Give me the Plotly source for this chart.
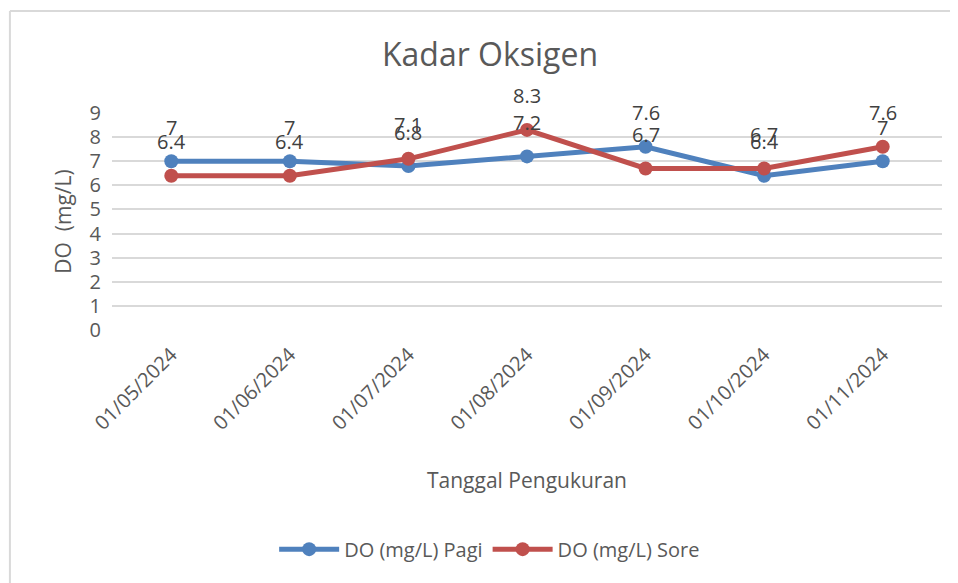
import plotly.graph_objects as go

tanggal = ["01/05/2024", "01/06/2024", "01/07/2024", "01/08/2024",
           "01/09/2024", "01/10/2024", "01/11/2024"]
do_pagi = [7, 7, 6.8, 7.2, 7.6, 6.4, 7]
do_sore = [6.4, 6.4, 7.1, 8.3, 6.7, 6.7, 7.6]
y_ticks = [0, 1, 2, 3, 4, 5, 6, 7, 8, 9]

FONT = "Open Sans"
TEXT = "#595959"

fig = go.Figure()

for name, vals, color in [("DO (mg/L) Pagi", do_pagi, "#4F81BD"),
                          ("DO (mg/L) Sore", do_sore, "#C0504D")]:
    fig.add_trace(go.Scatter(
        x=tanggal, y=vals, name=name, mode="lines+markers",
        line=dict(color=color, width=5),
        marker=dict(color=color, size=14),
    ))
    # data labels sit well above the points, like the Excel chart
    for xv, yv in zip(tanggal, vals):
        fig.add_annotation(x=xv, y=yv, text=f"{yv:g}", showarrow=False,
                           yshift=34, font=dict(family=FONT, size=20, color="#404040"))

# outer chart frame (top and left edges visible)
fig.add_shape(type="line", xref="paper", yref="paper", x0=-0.123, x1=1.2,
              y0=1.47, y1=1.47, line=dict(color="#D9D9D9", width=2))
fig.add_shape(type="line", xref="paper", yref="paper", x0=-0.123, x1=-0.123,
              y0=1.47, y1=-1.3, line=dict(color="#D9D9D9", width=2))

fig.add_annotation(text="Tanggal Pengukuran", xref="paper", yref="paper",
                   x=0.5, y=-0.691, xanchor="center", yanchor="middle",
                   showarrow=False, font=dict(family=FONT, size=21, color=TEXT))
fig.add_annotation(text="DO  (mg/L)", xref="paper", yref="paper",
                   x=-0.06, y=0.5, xanchor="center", yanchor="middle",
                   textangle=-90, showarrow=False,
                   font=dict(family=FONT, size=21, color=TEXT))

fig.update_layout(
    width=958, height=583,
    margin=dict(l=104, r=24, t=105, b=261),
    paper_bgcolor="white", plot_bgcolor="white",
    font=dict(family=FONT, color=TEXT),
    title=dict(text="Kadar Oksigen", x=482 / 958, xref="container",
               y=1 - 47 / 583, yref="container", yanchor="middle",
               font=dict(family=FONT, size=32, color=TEXT)),
    xaxis=dict(type="category", range=[-0.5, 6.5], tickangle=-45,
               tickfont=dict(size=20, color=TEXT), showgrid=False,
               showline=False, zeroline=False, ticklabelstandoff=8),
    yaxis=dict(range=[0, 9], tickvals=y_ticks, showgrid=True,
               gridcolor="#D9D9D9", gridwidth=2, zeroline=False,
               tickfont=dict(size=20, color=TEXT), ticks="", ticklabelstandoff=10),
    legend=dict(orientation="h", x=0.455, xanchor="center", y=-1.01,
                yanchor="middle", font=dict(size=20, color=TEXT),
                itemwidth=60),
    showlegend=True,
)

fig.write_html("out.html")
